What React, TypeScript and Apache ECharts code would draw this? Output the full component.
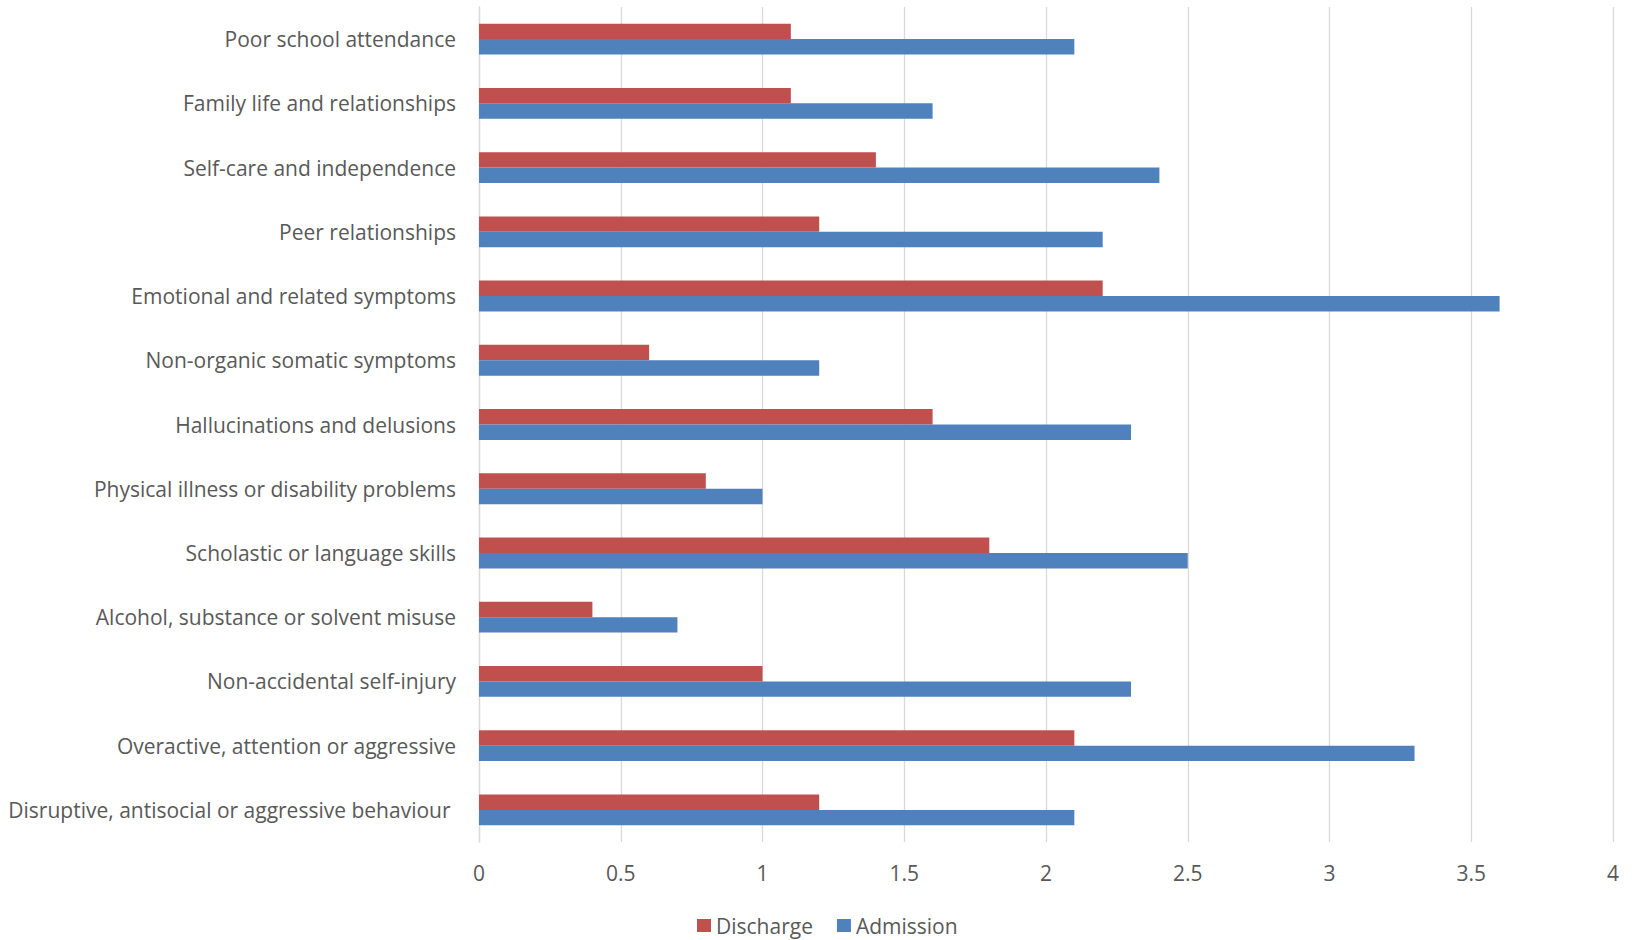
import React, { useEffect, useRef } from "react";
import * as echarts from "echarts";

// Problem areas, listed top to bottom
const categories: string[] = [
  "Poor school attendance",
  "Family life and relationships",
  "Self-care and independence",
  "Peer relationships",
  "Emotional and related symptoms",
  "Non-organic somatic symptoms",
  "Hallucinations and delusions",
  "Physical illness or disability problems",
  "Scholastic or language skills",
  "Alcohol, substance or solvent misuse",
  "Non-accidental self-injury",
  "Overactive, attention or aggressive",
  "Disruptive, antisocial or aggressive behaviour ",
];

const dischargeValues: number[] = [1.1, 1.1, 1.4, 1.2, 2.2, 0.6, 1.6, 0.8, 1.8, 0.4, 1.0, 2.1, 1.2];
const admissionValues: number[] = [2.1, 1.6, 2.4, 2.2, 3.6, 1.2, 2.3, 1.0, 2.5, 0.7, 2.3, 3.3, 2.1];

const xTicks: number[] = [0, 0.5, 1, 1.5, 2, 2.5, 3, 3.5, 4];

const FONT = "'Open Sans', 'Noto Sans', sans-serif";
const TEXT = "#595959";
const GRID = "#d9d9d9";

export default function App() {
  const ref = useRef<HTMLDivElement>(null);

  useEffect(() => {
    if (!ref.current) return;
    const chart = echarts.init(ref.current, null, { renderer: "svg" });
    chart.setOption({
      animation: false,
      backgroundColor: "#ffffff",
      textStyle: { fontFamily: FONT },
      grid: { left: 479, right: 23, top: 7, bottom: 98, containLabel: false },
      legend: {
        bottom: 4,
        left: 697,
        padding: 0,
        itemWidth: 14,
        itemHeight: 13,
        itemGap: 24,
        icon: "rect",
        textStyle: { fontFamily: FONT, fontSize: 21, color: TEXT },
        data: ["Discharge", "Admission"],
      },
      xAxis: {
        type: "value",
        min: xTicks[0],
        max: xTicks[xTicks.length - 1],
        interval: xTicks[1] - xTicks[0],
        axisLine: { show: false },
        axisTick: { show: false },
        splitLine: { show: true, lineStyle: { color: GRID, width: 1.3 } },
        axisLabel: { fontFamily: FONT, fontSize: 21, color: TEXT, margin: 20 },
      },
      yAxis: {
        type: "category",
        inverse: true,
        data: categories,
        axisLine: { show: true, lineStyle: { color: GRID, width: 1.3 } },
        axisTick: { show: false },
        axisLabel: { fontFamily: FONT, fontSize: 21, color: TEXT, margin: 23 },
      },
      series: [
        {
          name: "Discharge",
          type: "bar",
          data: dischargeValues,
          itemStyle: { color: "#C0504D" },
          barGap: "0%",
          barCategoryGap: "52%",
        },
        {
          name: "Admission",
          type: "bar",
          data: admissionValues,
          itemStyle: { color: "#4F81BD" },
          barGap: "0%",
          barCategoryGap: "52%",
        },
      ],
    });
    return () => chart.dispose();
  }, []);

  return (
    <div
      ref={ref}
      style={{ position: "absolute", left: 0, top: 0, width: 1636, height: 940, background: "#fff" }}
    />
  );
}
